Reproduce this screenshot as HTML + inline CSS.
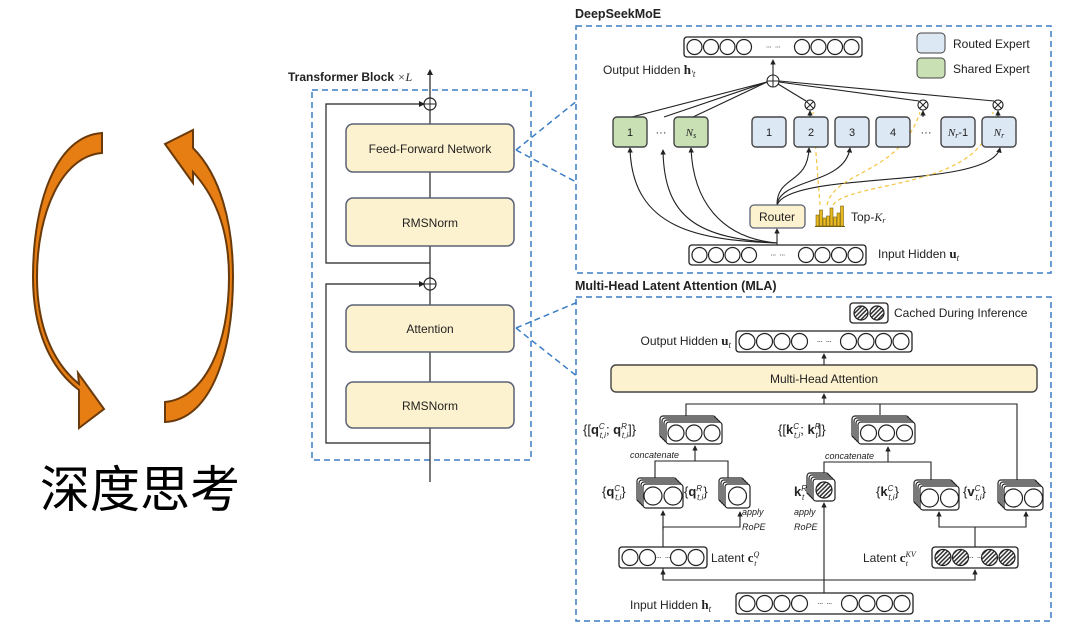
<!DOCTYPE html>
<html><head><meta charset="utf-8"><style>
html,body{margin:0;padding:0;background:#fff;}
svg{display:block;}
text{font-family:"Liberation Sans","Noto Sans CJK SC",sans-serif;fill:#222;}
.s{font-size:12px;}
.b{font-weight:bold;}
.m{font-family:"Liberation Serif",serif;}
.i{font-style:italic;font-size:9px;}
</style></head><body>
<svg id="sv" width="1080" height="634" viewBox="0 0 1080 634" xmlns="http://www.w3.org/2000/svg">
<defs>
<pattern id="h" width="3" height="3" patternUnits="userSpaceOnUse" patternTransform="rotate(45)">
<rect width="3" height="3" fill="#fff"/><rect width="1.5" height="3" fill="#333"/></pattern>
<marker id="a" viewBox="0 0 6 6" refX="5" refY="3" markerWidth="5" markerHeight="5" orient="auto"><path d="M0,0L6,3L0,6Z" fill="#222"/></marker>
</defs>

<!-- orange arrows -->
<path d="M102,133 L102,153 C62,156 37,212 37,277 C37,325 52,362 79,384 L78,373 L104,409 L79,428 L79,390 C50,368 33,330 33,277 C33,205 55,136 102,133 Z" fill="#e67e14" stroke="#6b3a0a" stroke-width="2"/>
<path d="M165,422 L165,402 C205,398 229,345 229,277 C229,232 216,197 193,172 L193,183 L165,144 L193,130 L193,148 C220,175 233,222 233,277 C233,355 210,420 165,422 Z" fill="#e67e14" stroke="#6b3a0a" stroke-width="2"/>
<text x="140" y="507" text-anchor="middle" style="font-size:50px;font-family:'Noto Sans CJK SC',sans-serif;fill:#000">深度思考</text>

<!-- transformer block -->
<text x="288" y="81" class="b" style="font-size:12px">Transformer Block <tspan class="m" font-weight="normal" font-style="italic">×L</tspan></text>
<rect x="312" y="90" width="219" height="370" fill="none" stroke="#3b7dc4" stroke-width="1.5" stroke-dasharray="6,4"/>
<line x1="430" y1="482" x2="430" y2="70" stroke="#222" stroke-width="1.2" marker-end="url(#a)"/>
<polyline points="430,263 326,263 326,104 424,104" fill="none" stroke="#222" stroke-width="1.2" marker-end="url(#a)"/>
<polyline points="430,443 326,443 326,284 424,284" fill="none" stroke="#222" stroke-width="1.2" marker-end="url(#a)"/>
<g fill="#fff" stroke="#222" stroke-width="1.2">
<circle cx="430" cy="104" r="6"/><circle cx="430" cy="284" r="6"/></g>
<path d="M424,104H436M430,98V110M424,284H436M430,278V290" stroke="#222" stroke-width="1"/>
<g fill="#fdf2cf" stroke="#5a6275" stroke-width="1.5">
<rect x="346" y="124" width="168" height="48" rx="7"/>
<rect x="346" y="198" width="168" height="48" rx="7"/>
<rect x="346" y="305" width="168" height="47" rx="7"/>
<rect x="346" y="382" width="168" height="46" rx="7"/></g>
<text x="430" y="153" text-anchor="middle" class="s">Feed-Forward Network</text>
<text x="430" y="227" text-anchor="middle" class="s">RMSNorm</text>
<text x="430" y="333" text-anchor="middle" class="s">Attention</text>
<text x="430" y="410" text-anchor="middle" class="s">RMSNorm</text>
<path d="M516,150 L578,100 M516,150 L578,183 M516,328 L578,302 M516,328 L578,377" stroke="#3b7dc4" stroke-width="1.5" stroke-dasharray="6,4" fill="none"/>

<!-- MoE -->
<text x="575" y="18" class="b" style="font-size:12.5px">DeepSeekMoE</text>
<rect x="576" y="26" width="475" height="247" fill="none" stroke="#3b7dc4" stroke-width="1.5" stroke-dasharray="6,4"/>
<rect x="917" y="33" width="28" height="20" rx="4" fill="#dde8f5" stroke="#444"/>
<rect x="917" y="58" width="28" height="20" rx="4" fill="#c8e0b4" stroke="#444"/>
<text x="953" y="48" class="s">Routed Expert</text>
<text x="953" y="73" class="s">Shared Expert</text>
<text x="603" y="74" class="s">Output Hidden <tspan class="m b" font-size="13">h</tspan><tspan class="m" font-style="italic" font-size="9" dy="3">′t</tspan></text>
<text x="878" y="258" class="s">Input Hidden <tspan class="m b" font-size="13">u</tspan><tspan class="m" font-style="italic" font-size="9" dy="3">t</tspan></text>
<g id="moelines" stroke="#222" stroke-width="1.1" fill="none">
<line x1="773" y1="75" x2="773" y2="60" marker-end="url(#a)"/>
<line x1="632" y1="117" x2="767" y2="82"/>
<line x1="664" y1="117" x2="767" y2="82"/>
<line x1="693" y1="117" x2="767" y2="82"/>
<line x1="806" y1="101" x2="778" y2="84"/>
<line x1="919" y1="101" x2="779" y2="82"/>
<line x1="994" y1="101" x2="779" y2="81"/>
<line x1="810" y1="117" x2="810" y2="111" marker-end="url(#a)"/>
<line x1="923" y1="117" x2="923" y2="111" marker-end="url(#a)"/>
<line x1="998" y1="117" x2="998" y2="111" marker-end="url(#a)"/>
<line x1="777" y1="245" x2="777" y2="229" marker-end="url(#a)"/>
<path d="M777,243 C700,240 632,230 630,148" marker-end="url(#a)"/>
<path d="M777,243 C700,238 664,220 663,150" marker-end="url(#a)"/>
<path d="M777,243 C720,238 693,200 691,148" marker-end="url(#a)"/>
<path d="M777,205 C777,175 808,185 809,148" marker-end="url(#a)"/>
<path d="M777,205 C780,178 845,185 850,148" marker-end="url(#a)"/>
<path d="M777,205 C790,170 990,190 1000,148" marker-end="url(#a)"/>
</g>
<path d="M820,205 C818,180 815,140 813,112 M827,205 C835,170 900,175 920,112 M833,205 C850,180 990,190 993,112" stroke="#f5c542" stroke-width="1.2" stroke-dasharray="4,3" fill="none"/>
<g fill="#fff" stroke="#222" stroke-width="1.1">
<circle cx="773" cy="81" r="6"/><circle cx="810" cy="105" r="5"/><circle cx="923" cy="105" r="5"/><circle cx="998" cy="105" r="5"/></g>
<path d="M767,81H779M773,75V87 M806.5,101.5L813.5,108.5M813.5,101.5L806.5,108.5 M919.5,101.5L926.5,108.5M926.5,101.5L919.5,108.5 M994.5,101.5L1001.5,108.5M1001.5,101.5L994.5,108.5" stroke="#222" stroke-width="1"/>
<g stroke="#444" stroke-width="1.4">
<rect x="613" y="117" width="34" height="30" rx="4" fill="#c8e0b4"/>
<rect x="674" y="117" width="34" height="30" rx="4" fill="#c8e0b4"/>
<rect x="752" y="117" width="34" height="30" rx="4" fill="#dde8f5"/>
<rect x="794" y="117" width="34" height="30" rx="4" fill="#dde8f5"/>
<rect x="835" y="117" width="34" height="30" rx="4" fill="#dde8f5"/>
<rect x="876" y="117" width="34" height="30" rx="4" fill="#dde8f5"/>
<rect x="941" y="117" width="34" height="30" rx="4" fill="#dde8f5"/>
<rect x="982" y="117" width="34" height="30" rx="4" fill="#dde8f5"/></g>
<g font-size="11" text-anchor="middle">
<text x="630" y="136">1</text><text x="661" y="136">···</text><text x="691" y="136" class="m" font-style="italic">N<tspan font-size="8" dy="2">s</tspan></text>
<text x="769" y="136">1</text><text x="811" y="136">2</text><text x="852" y="136">3</text><text x="893" y="136">4</text><text x="926" y="136">···</text>
<text x="958" y="136"><tspan class="m" font-style="italic">N<tspan font-size="8" dy="2">r</tspan></tspan><tspan dy="-2">-1</tspan></text>
<text x="999" y="136" class="m" font-style="italic">N<tspan font-size="8" dy="2">r</tspan></text></g>
<rect x="750" y="205" width="55" height="23" rx="4" fill="#fdf2cf" stroke="#5a6275" stroke-width="1.3"/>
<text x="777" y="221" text-anchor="middle" class="s">Router</text>
<g fill="#e8b820" stroke="#776010" stroke-width="0.6">
<rect x="816" y="215" width="3" height="11"/><rect x="819.5" y="210" width="3" height="16"/><rect x="823" y="218" width="3" height="8"/><rect x="826.5" y="216" width="3" height="10"/><rect x="830" y="208" width="3" height="18"/><rect x="833.5" y="217" width="3" height="9"/><rect x="837" y="213" width="3" height="13"/><rect x="840.5" y="206" width="3" height="20"/></g>
<line x1="815" y1="226.5" x2="845" y2="226.5" stroke="#776010"/>
<text x="851" y="221" class="s">Top-<tspan class="m" font-style="italic">K<tspan font-size="8" dy="2">r</tspan></tspan></text>

<!-- MLA -->
<text x="575" y="290" class="b" style="font-size:12.5px">Multi-Head Latent Attention (MLA)</text>
<rect x="576" y="297" width="475" height="324" fill="none" stroke="#3b7dc4" stroke-width="1.5" stroke-dasharray="6,4"/>
<text x="894" y="317" class="s">Cached During Inference</text>
<text x="731" y="345" text-anchor="end" class="s">Output Hidden <tspan class="m b" font-size="13">u</tspan><tspan class="m" font-style="italic" font-size="9" dy="3">t</tspan></text>
<rect x="611" y="365" width="426" height="27" rx="5" fill="#fdf2cf" stroke="#444" stroke-width="1.4"/>
<text x="824" y="383" text-anchor="middle" class="s">Multi-Head Attention</text>
<text x="630" y="609" class="s">Input Hidden <tspan class="m b" font-size="13">h</tspan><tspan class="m" font-style="italic" font-size="9" dy="3">t</tspan></text>
<g stroke="#222" stroke-width="1.1" fill="none">
<line x1="824" y1="365" x2="824" y2="354" marker-end="url(#a)"/>
<line x1="824" y1="404" x2="824" y2="394" marker-end="url(#a)"/>
<polyline points="686,416 686,404 1017,404 1017,482"/>
<line x1="880" y1="404" x2="880" y2="415"/>
<line x1="695" y1="461" x2="695" y2="446" marker-end="url(#a)"/>
<polyline points="655,478 655,461 728,461 728,480"/>
<line x1="888" y1="462" x2="888" y2="447" marker-end="url(#a)"/>
<polyline points="824,479 824,462 931,462 931,482"/>
<polyline points="663,580 663,527 740,527 740,513" />
<line x1="663" y1="530" x2="663" y2="511" marker-end="url(#a)"/>
<line x1="740" y1="520" x2="740" y2="512" marker-end="url(#a)"/>
<polyline points="975,547 975,527 939,527 939,512"/>
<polyline points="975,527 1026,527 1026,512"/>
<line x1="939" y1="520" x2="939" y2="512" marker-end="url(#a)"/>
<line x1="1026" y1="520" x2="1026" y2="512" marker-end="url(#a)"/>
<line x1="824" y1="593" x2="824" y2="503" marker-end="url(#a)"/>
<polyline points="663,575 663,580 975,580 975,575"/>
<line x1="663" y1="580" x2="663" y2="570" marker-end="url(#a)"/>
<line x1="975" y1="580" x2="975" y2="570" marker-end="url(#a)"/>
</g>
<g id="dyn"></g>
<g font-family="Liberation Serif,serif" font-size="13">
<text x="583" y="434">{[<tspan font-weight="bold">q</tspan><tspan font-size="8" font-style="italic" dy="-5">C</tspan><tspan font-size="8" font-style="italic" dx="-5" dy="9">t,i</tspan><tspan dy="-4">; </tspan><tspan font-weight="bold">q</tspan><tspan font-size="8" font-style="italic" dy="-5">R</tspan><tspan font-size="8" font-style="italic" dx="-5" dy="9">t,i</tspan><tspan dy="-4">]}</tspan></text>
<text x="778" y="434">{[<tspan font-weight="bold">k</tspan><tspan font-size="8" font-style="italic" dy="-5">C</tspan><tspan font-size="8" font-style="italic" dx="-5" dy="9">t,i</tspan><tspan dy="-4">; </tspan><tspan font-weight="bold">k</tspan><tspan font-size="8" font-style="italic" dy="-5">R</tspan><tspan font-size="8" font-style="italic" dx="-5" dy="9">t</tspan><tspan dy="-4">]}</tspan></text>
<text x="602" y="496">{<tspan font-weight="bold">q</tspan><tspan font-size="8" font-style="italic" dy="-5">C</tspan><tspan font-size="8" font-style="italic" dx="-5" dy="9">t,i</tspan><tspan dy="-4">}</tspan></text>
<text x="684" y="496">{<tspan font-weight="bold">q</tspan><tspan font-size="8" font-style="italic" dy="-5">R</tspan><tspan font-size="8" font-style="italic" dx="-5" dy="9">t,i</tspan><tspan dy="-4">}</tspan></text>
<text x="794" y="496"><tspan font-weight="bold">k</tspan><tspan font-size="8" font-style="italic" dy="-5">R</tspan><tspan font-size="8" font-style="italic" dx="-5" dy="9">t</tspan></text>
<text x="876" y="496">{<tspan font-weight="bold">k</tspan><tspan font-size="8" font-style="italic" dy="-5">C</tspan><tspan font-size="8" font-style="italic" dx="-5" dy="9">t,i</tspan><tspan dy="-4">}</tspan></text>
<text x="963" y="496">{<tspan font-weight="bold">v</tspan><tspan font-size="8" font-style="italic" dy="-5">C</tspan><tspan font-size="8" font-style="italic" dx="-5" dy="9">t,i</tspan><tspan dy="-4">}</tspan></text>
</g>
<text x="630" y="458" class="i">concatenate</text>
<text x="825" y="459" class="i">concatenate</text>
<text x="742" y="515" class="i">apply</text><text x="742" y="530" class="i">RoPE</text>
<text x="794" y="515" class="i">apply</text><text x="794" y="530" class="i">RoPE</text>
<text x="711" y="562" class="s">Latent <tspan class="m b" font-size="13">c</tspan><tspan class="m" font-style="italic" font-size="8" dy="-5">Q</tspan><tspan class="m" font-style="italic" font-size="8" dx="-5" dy="9">t</tspan></text>
<text x="863" y="562" class="s">Latent <tspan class="m b" font-size="13">c</tspan><tspan class="m" font-style="italic" font-size="8" dy="-5">KV</tspan><tspan class="m" font-style="italic" font-size="8" dx="-10" dy="9">t</tspan></text>
</svg>
<script>
var g=document.getElementById('dyn'),moe=document.getElementById('sv'),NS='http://www.w3.org/2000/svg';
function el(t,a,p){var e=document.createElementNS(NS,t);for(var k in a)e.setAttribute(k,a[k]);(p||g).appendChild(e);return e;}
function circ(cx,cy,r,hat){el('circle',{cx:cx,cy:cy,r:r,fill:hat?'url(#h)':'#fff',stroke:'#222','stroke-width':1.2});}
function dots(x,y){for(var i=0;i<2;i++)for(var j=0;j<3;j++)el('circle',{cx:x+i*9+j*1.8,cy:y,r:0.5,fill:'#444'});}
function bar(x1,y1,x2,y2,n,hat){el('rect',{x:x1,y:y1,width:x2-x1,height:y2-y1,rx:3,fill:'#fff',stroke:'#222','stroke-width':1.3});
var h=y2-y1,r=h/2-2.5,cy=(y1+y2)/2,st=2*r+1.5;
for(var i=0;i<n;i++){circ(x1+3+r+i*st,cy,r,hat);circ(x2-3-r-i*st,cy,r,hat);}
dots((x1+x2)/2-6,cy);}
function stack(x,y,w,h,n,hat){for(var k=3;k>=0;k--){el('rect',{x:x-k*2,y:y-k*2,width:w,height:h,rx:3,fill:'#fff',stroke:'#222','stroke-width':1.2});}
var r=h/2-3,cy=y+h/2,st=2*r+2;var tot=n*st-2;var sx=x+(w-tot)/2+r;for(var i=0;i<n;i++)circ(sx+i*st,cy,r,hat);}
bar(684,37,862,57,4);bar(689,245,866,265,4);
bar(736,331,912,352,4);bar(736,593,913,614,4);
bar(619,547,707,568,2);bar(932,547,1018,568,2,true);
stack(666,422,56,22,3);stack(858,422,57,22,3);
stack(643,484,40,24,2);stack(725,484,25,24,1);
stack(920,486,39,24,2);stack(1004,486,39,24,2);
stack(813,479,22,22,1,true);
el('rect',{x:850,y:303,width:38,height:20,rx:3,fill:'#fff',stroke:'#222','stroke-width':1.3});
circ(861,313,7,true);circ(877,313,7,true);
</script>
</body></html>
